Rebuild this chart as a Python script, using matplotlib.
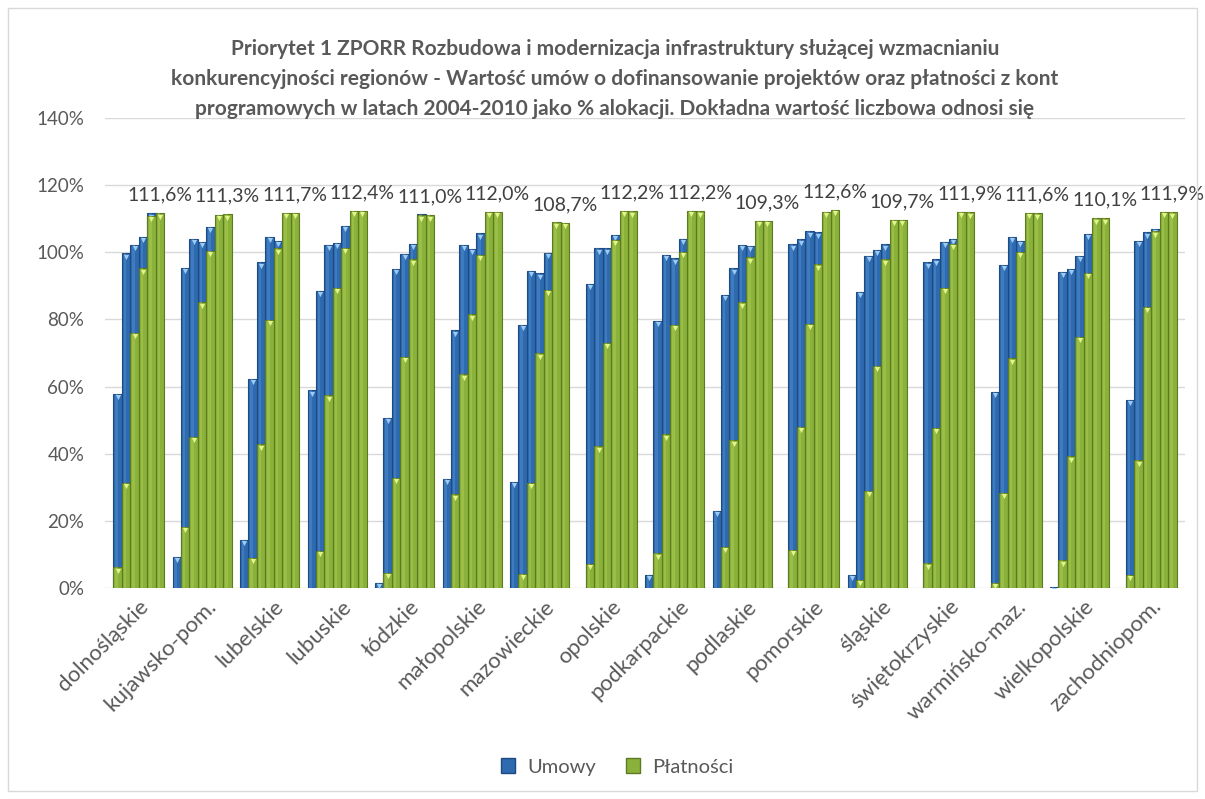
import numpy as np
import matplotlib
matplotlib.use("Agg")
import matplotlib.pyplot as plt
from matplotlib.patches import Patch, Rectangle
from matplotlib.transforms import ScaledTranslation

plt.rcParams["font.family"] = ["Lato", "DejaVu Sans"]

regions = ["dolnośląskie", "kujawsko-pom.", "lubelskie", "lubuskie", "łódzkie",
           "małopolskie", "mazowieckie", "opolskie", "podkarpackie", "podlaskie",
           "pomorskie", "śląskie", "świętokrzyskie", "warmińsko-maz.",
           "wielkopolskie", "zachodniopom."]
years = [2004, 2005, 2006, 2007, 2008, 2009, 2010]

nan = np.nan
# % of allocation, one row per region, one column per year
umowy = [
    [0, 57.9, 99.7, 102.2, 104.7, 111.6, nan],
    [9.2, 95.4, 104.0, 103.2, 107.5, nan, nan],
    [14.3, 62.4, 97.0, 104.7, 103.4, nan, nan],
    [58.9, 88.6, 102.2, 102.9, 107.9, nan, nan],
    [1.5, 50.6, 95.0, 99.5, 102.5, 111.3, nan],
    [32.5, 76.8, 102.2, 101.0, 105.7, nan, nan],
    [31.7, 78.3, 94.5, 93.7, 99.9, nan, nan],
    [0, 90.7, 101.2, 101.2, 105.2, nan, nan],
    [4.0, 79.6, 99.2, 98.2, 104.0, nan, nan],
    [22.9, 87.3, 95.2, 102.2, 101.9, nan, nan],
    [0, 102.4, 103.9, 106.2, 106.0, nan, nan],
    [4.0, 88.3, 98.9, 100.7, 102.4, nan, nan],
    [0, 97.0, 97.9, 103.2, 104.0, nan, nan],
    [0, 58.4, 96.2, 104.7, 103.5, nan, nan],
    [0.3, 94.2, 95.0, 98.9, 105.5, nan, nan],
    [0, 56.1, 103.5, 105.9, 106.9, nan, nan],
]
platnosci = [
    [0, 6.2, 31.3, 76.1, 95.2, 110.9, 111.6],
    [0, 18.3, 45.0, 85.1, 100.5, 111.1, 111.3],
    [0, 9.0, 42.8, 79.8, 101.2, 111.7, 111.7],
    [0, 11.1, 57.4, 89.5, 101.4, 112.4, 112.4],
    [0, 4.5, 32.8, 68.9, 97.9, 111.0, 111.0],
    [0, 27.9, 63.7, 81.5, 99.2, 112.1, 112.0],
    [0, 4.2, 31.3, 69.9, 88.8, 108.9, 108.7],
    [0, 7.2, 42.2, 73.1, 103.7, 112.4, 112.2],
    [0, 10.3, 45.8, 78.3, 100.2, 112.4, 112.2],
    [0, 12.3, 44.0, 85.1, 98.5, 109.3, 109.3],
    [0, 11.3, 48.0, 78.6, 96.4, 112.1, 112.6],
    [0, 2.5, 28.9, 66.2, 97.9, 109.7, 109.7],
    [0, 7.4, 47.7, 89.5, 102.5, 112.1, 111.9],
    [0, 1.5, 28.3, 68.4, 100.2, 111.8, 111.6],
    [0, 8.2, 39.2, 74.8, 93.9, 110.1, 110.1],
    [0, 4.0, 38.0, 83.8, 106.2, 112.1, 111.9],
]

title = ("Priorytet 1 ZPORR Rozbudowa i modernizacja infrastruktury służącej wzmacnianiu\n"
         "konkurencyjności regionów - Wartość umów o dofinansowanie projektów oraz płatności z kont\n"
         "programowych w latach 2004-2010 jako % alokacji. Dokładna wartość liczbowa odnosi się")

BLUE = dict(body="#2D6AB0", edge="#1D4A80", light="#6FA3DE", cap="#9CCBF5")
GREEN = dict(body="#8AB13A", edge="#5C7A1F", light="#C2DE6A", cap="#E2F58A")
TEXT = "#595959"


def draw_series(ax, values, style, z):
    vals = np.array(values, dtype=float)
    n_reg, n_yr = vals.shape
    bw = 1.0 / (n_yr + 1)
    xs = (np.arange(n_reg)[:, None] + (np.arange(n_yr)[None, :] + 0.5) * bw).ravel()
    hs = vals.ravel()
    hs = np.where(hs > 0, hs, nan)
    ax.bar(xs, hs, width=bw, color=style["body"], edgecolor=style["edge"],
           linewidth=0.8, zorder=z)
    # narrow lighter strip gives the bars a rounded look
    ax.bar(xs - bw * 0.12, hs, width=bw * 0.3, color=style["light"], alpha=0.3,
           linewidth=0, zorder=z + 0.1)
    ax.scatter(xs, hs - 1.0, marker="v", s=14, color=style["cap"], linewidths=0,
               zorder=z + 0.2)
    return bw


fig = plt.figure(figsize=(12.05, 7.99), dpi=100)
ax = fig.add_axes([105 / 1205, 211 / 799, 1080 / 1205, 470 / 799])

draw_series(ax, umowy, BLUE, 2)
bw = draw_series(ax, platnosci, GREEN, 3)

# value of the last year above each region
for i, row in enumerate(platnosci):
    x = i + (len(years) - 0.5) * bw
    ax.annotate(f"{row[-1]:.1f}%".replace(".", ","), (x, row[-1]),
                xytext=(0, 7), textcoords="offset points", ha="center",
                va="bottom", fontsize=14, color="#404040", zorder=5)

ax.set_xlim(0, len(regions))
ax.set_ylim(0, 140)
ax.set_yticks(np.arange(0, 141, 20))
ax.set_yticklabels([f"{v}%" for v in range(0, 141, 20)], fontsize=13.5, color=TEXT)
ax.set_xticks(np.arange(len(regions)) + 0.5)
ax.set_xticklabels(regions, rotation=45, ha="right", rotation_mode="anchor",
                   fontsize=16, color=TEXT)
shift = ScaledTranslation(-0.14, -0.05, fig.dpi_scale_trans)
for lbl in ax.get_xticklabels():
    lbl.set_transform(lbl.get_transform() + shift)
ax.tick_params(axis="both", length=0)
ax.tick_params(axis="y", pad=15)
ax.tick_params(axis="x", pad=6)
ax.grid(axis="y", color="#D9D9D9", linewidth=1)
ax.set_axisbelow(True)
for s in ax.spines.values():
    s.set_visible(False)

fig.text(615 / 1205, 1 - 39 / 799, title, ha="center", va="top", fontsize=15,
         fontweight="bold", color=TEXT, linespacing=1.62)

handles = [Patch(facecolor=BLUE["body"], edgecolor=BLUE["edge"]),
           Patch(facecolor=GREEN["body"], edgecolor=GREEN["edge"])]
fig.legend(handles, ["Umowy", "Płatności"], loc="center",
           bbox_to_anchor=(617 / 1205, 1 - 767 / 799), ncol=2, frameon=False,
           fontsize=14.5, labelcolor=TEXT, handlelength=0.7, handleheight=0.7,
           columnspacing=1.5, handletextpad=0.6)

fig.patches.append(Rectangle((8 / 1205, 8 / 799), 1189 / 1205, 783 / 799,
                             transform=fig.transFigure, fill=False,
                             edgecolor="#D9D9D9", linewidth=1))

fig.savefig("out.png", dpi=100)
